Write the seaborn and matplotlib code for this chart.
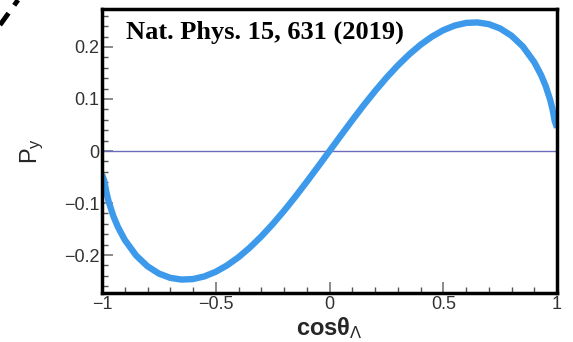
import matplotlib
matplotlib.use("Agg")
import matplotlib.pyplot as plt
from matplotlib.lines import Line2D
from matplotlib.ticker import MultipleLocator
import seaborn as sns
import pandas as pd

# data
cos_theta = [-1.0, -0.99, -0.98, -0.97, -0.95, -0.93, -0.9, -0.85, -0.8, -0.75, -0.7,
             -0.65, -0.6, -0.55, -0.5, -0.45, -0.4, -0.35, -0.3, -0.25, -0.2, -0.15,
             -0.1, -0.05, 0.0, 0.05, 0.1, 0.15, 0.2, 0.25, 0.3, 0.35, 0.4, 0.45, 0.5,
             0.55, 0.6, 0.65, 0.7, 0.75, 0.8, 0.85, 0.9, 0.93, 0.95, 0.97, 0.98, 0.99, 1.0]
p_y = [-0.045, -0.0575, -0.0808, -0.0984, -0.1253, -0.1461, -0.1708, -0.2009, -0.2216,
       -0.2356, -0.2439, -0.2472, -0.2462, -0.2411, -0.2322, -0.2198, -0.2042, -0.1856,
       -0.1643, -0.1407, -0.1151, -0.0878, -0.0592, -0.0298, 0.0, 0.0298, 0.0592, 0.0878,
       0.1151, 0.1407, 0.1643, 0.1856, 0.2042, 0.2198, 0.2322, 0.2411, 0.2462, 0.2472,
       0.2439, 0.2356, 0.2216, 0.2009, 0.1708, 0.1461, 0.1253, 0.0984, 0.0808, 0.0575, 0.045]
x_ticks = [-1, -0.5, 0, 0.5, 1]
x_tick_labels = ["\u22121", "\u22120.5", "0", "0.5", "1"]
y_ticks = [-0.2, -0.1, 0, 0.1, 0.2]
y_tick_labels = ["\u22120.2", "\u22120.1", "0", "0.1", "0.2"]
annotation = "Nat. Phys. 15, 631 (2019)"

sns.set_style("ticks")
plt.rcParams["font.family"] = ["Liberation Sans", "DejaVu Sans"]
plt.rcParams["mathtext.fontset"] = "custom"
plt.rcParams["mathtext.rm"] = "Liberation Sans"
plt.rcParams["mathtext.it"] = "Liberation Sans"
plt.rcParams["mathtext.bf"] = "Liberation Sans:bold"

fig = plt.figure(figsize=(5.73, 3.42), dpi=100)
ax = fig.add_axes([102/573, 1-293/342, (557-102)/573, (293-9)/342])

df = pd.DataFrame({"cos": cos_theta, "py": p_y})
ax.axhline(0, color="#6b6bbd", lw=1.0, zorder=1)
sns.lineplot(data=df, x="cos", y="py", ax=ax, color="#3d9aeb", lw=4.6,
             solid_capstyle="butt", zorder=2)

ax.set_xlim(-1, 1)
ax.set_ylim(-0.273, 0.273)
ax.set_xticks(x_ticks)
ax.set_xticklabels(x_tick_labels)
ax.set_yticks(y_ticks)
ax.set_yticklabels(y_tick_labels)
ax.xaxis.set_minor_locator(MultipleLocator(0.1))
ax.yaxis.set_minor_locator(MultipleLocator(0.02))
ax.tick_params(which="major", direction="in", length=8, width=1.2, color="#777777",
               labelsize=13, labelcolor="#333333", pad=2)
ax.tick_params(which="minor", direction="in", length=4, width=1.0, color="#555555")
for s in ax.spines.values():
    s.set_linewidth(2.5)
    s.set_color("black")

ax.set_xlabel(r"cos$\mathbf{\theta}_{\Lambda}$", fontsize=17, fontweight="bold", labelpad=2)
ax.set_ylabel(r"P$_{\mathrm{y}}$", fontsize=17, labelpad=13)
ax.text(0.052, 0.919, annotation, transform=ax.transAxes, ha="left", va="center",
        fontsize=19, fontweight="bold", family="Liberation Serif", color="black")

fig.add_artist(Line2D([0/573, 18/573], [1-25/342, 1.0], transform=fig.transFigure,
                      color="black", lw=3.5, ls=(0, (3, 2))))

fig.savefig("out.png", dpi=100)
